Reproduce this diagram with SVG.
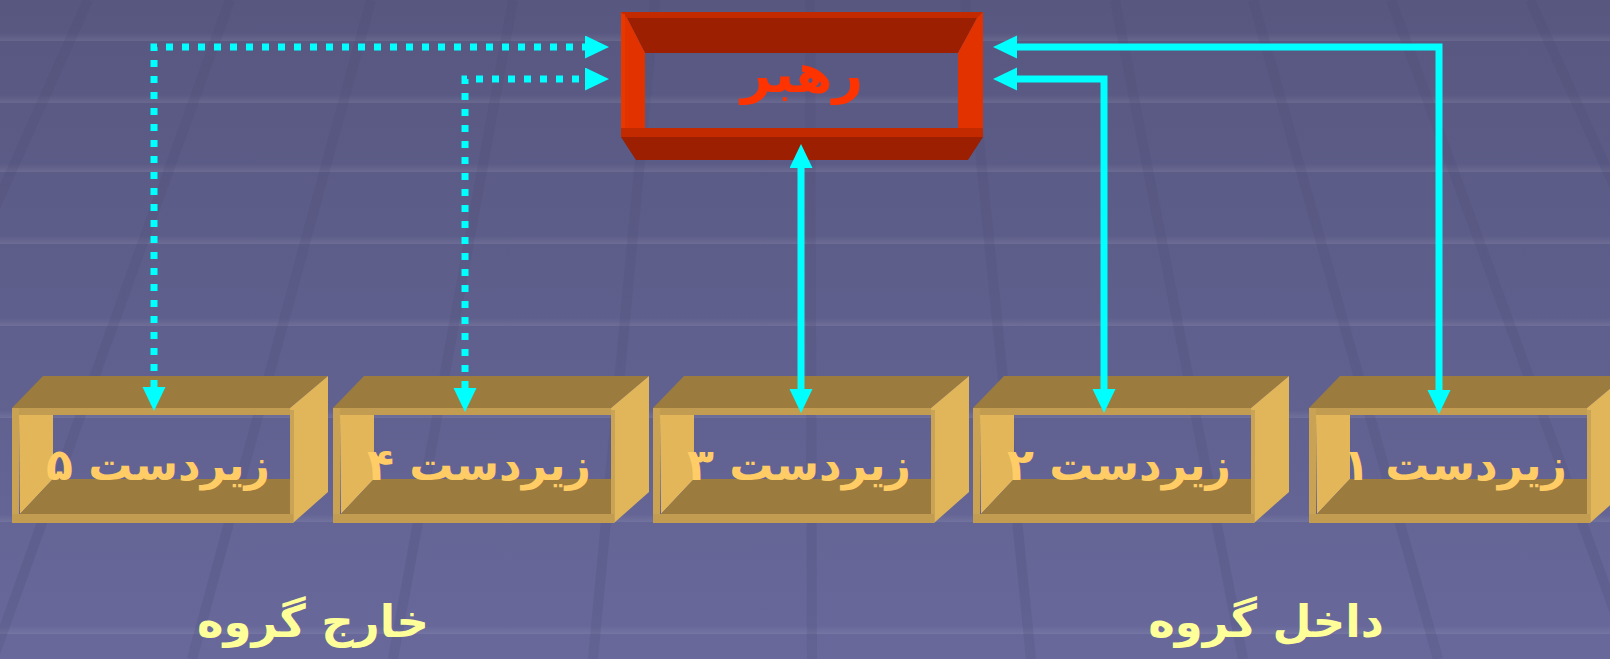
<svg xmlns="http://www.w3.org/2000/svg" width="1610" height="659" viewBox="0 0 1610 659">
<defs>
<linearGradient id="bg" x1="0" y1="0" x2="0" y2="1">
<stop offset="0" stop-color="#575780"/>
<stop offset="1" stop-color="#68689b"/>
</linearGradient>
<linearGradient id="band" x1="0" y1="0" x2="0" y2="1">
<stop offset="0" stop-color="#ffffff" stop-opacity="0"/>
<stop offset="1" stop-color="#ffffff" stop-opacity="0.09"/>
</linearGradient>
<marker id="ah" markerUnits="userSpaceOnUse" markerWidth="25" markerHeight="24" refX="0" refY="11.5" orient="auto-start-reverse" viewBox="0 0 25 24">
<path d="M0,0 L24,11.5 L0,23 z" fill="#00ffff"/>
</marker>
<g id="goldbox">
<polygon points="0,408 31,376 316,376 278,408" fill="#9b7b3e"/>
<rect x="0" y="408" width="278" height="7" fill="#c29c50"/>
<polygon points="278,408 316,376 316,492 281,523" fill="#e1b55a"/>
<rect x="278" y="410" width="4" height="112" fill="#c9a456"/>
<rect x="0" y="408" width="7" height="115" fill="#c9a254"/>
<polygon points="7,415 41,415 41,479 8,514" fill="#e3b65a"/>
<polygon points="41,479 278,479 278,514 8,514" fill="#9b7b3e"/>
<rect x="0" y="514" width="281" height="9" fill="#c29c50"/>
</g>
</defs>
<style>
.lbl{font-family:"DejaVu Sans",sans-serif;font-weight:bold;font-size:44px;fill:#ffcc66;text-anchor:middle}
.grp{font-family:"DejaVu Sans",sans-serif;font-weight:bold;font-size:45px;fill:#ffff99;text-anchor:middle}
.solid{fill:none;stroke:#00ffff;stroke-width:7;marker-end:url(#ah)}
.dot{fill:none;stroke:#00ffff;stroke-width:7;stroke-dasharray:7 9;marker-end:url(#ah)}
</style>
<rect width="1610" height="659" fill="url(#bg)"/>
<g id="background" stroke="#4a4a72" stroke-opacity="0.2" stroke-width="10">
<rect x="0" y="33" width="1610" height="8" fill="url(#band)" stroke="none"/>
<rect x="0" y="95" width="1610" height="8" fill="url(#band)" stroke="none"/>
<rect x="0" y="164" width="1610" height="8" fill="url(#band)" stroke="none"/>
<rect x="0" y="236" width="1610" height="8" fill="url(#band)" stroke="none"/>
<rect x="0" y="318" width="1610" height="8" fill="url(#band)" stroke="none"/>
<rect x="0" y="410" width="1610" height="8" fill="url(#band)" stroke="none"/>
<rect x="0" y="514" width="1610" height="8" fill="url(#band)" stroke="none"/>
<rect x="0" y="626" width="1610" height="8" fill="url(#band)" stroke="none"/>
<line x1="88" y1="0" x2="-207" y2="659"/>
<line x1="230" y1="0" x2="-7" y2="659"/>
<line x1="371" y1="0" x2="192" y2="659"/>
<line x1="513" y1="0" x2="393" y2="659"/>
<line x1="655" y1="0" x2="593" y2="659"/>
<line x1="810" y1="0" x2="812" y2="659"/>
<line x1="965" y1="0" x2="1031" y2="659"/>
<line x1="1115" y1="0" x2="1243" y2="659"/>
<line x1="1253" y1="0" x2="1438" y2="659"/>
<line x1="1391" y1="0" x2="1632" y2="659"/>
<line x1="1530" y1="0" x2="1829" y2="659"/>
</g>
<g id="leader">
<rect x="621" y="12" width="362" height="6" fill="#c42a00"/>
<polygon points="627,18 977,18 958,53 645,53" fill="#9b1f00"/>
<polygon points="621,12 627,18 645,53 645,128 621,128" fill="#e23200"/>
<polygon points="983,12 977,18 958,53 958,128 983,128" fill="#e23200"/>
<rect x="621" y="14" width="4" height="114" fill="#e83800"/>
<rect x="621" y="128" width="362" height="9" fill="#c42a00"/>
<polygon points="621,137 983,137 968,160 636,160" fill="#9b1f00"/>
<text x="802" y="92" font-family="DejaVu Sans, sans-serif" font-weight="bold" font-size="53" fill="#ff3300" text-anchor="middle">رهبر</text>
</g>
<g id="sub5"><use href="#goldbox" x="12"/><text class="lbl" x="158" y="480">زیردست ۵</text></g>
<g id="sub4"><use href="#goldbox" x="333"/><text class="lbl" x="479" y="480">زیردست ۴</text></g>
<g id="sub3"><use href="#goldbox" x="653"/><text class="lbl" x="799" y="480">زیردست ۳</text></g>
<g id="sub2"><use href="#goldbox" x="973"/><text class="lbl" x="1119" y="480">زیردست ۲</text></g>
<g id="sub1"><use href="#goldbox" x="1309"/><text class="lbl" x="1455" y="480">زیردست ۱</text></g>
<g id="connectors">
<path class="dot" d="M154,387 V47 H585" style="marker-start:url(#ah)"/>
<path class="dot" d="M465,388 V79 H585" style="marker-start:url(#ah)"/>
<path class="solid" d="M801,168 V389" style="marker-start:url(#ah)"/>
<path class="solid" d="M1017,79 H1104 V389" style="marker-start:url(#ah)"/>
<path class="solid" d="M1017,47 H1439 V390" style="marker-start:url(#ah)"/>
</g>
<g id="groups">
<text class="grp" x="313" y="637">خارج گروه</text>
<text class="grp" x="1266" y="637">داخل گروه</text>
</g>
</svg>
